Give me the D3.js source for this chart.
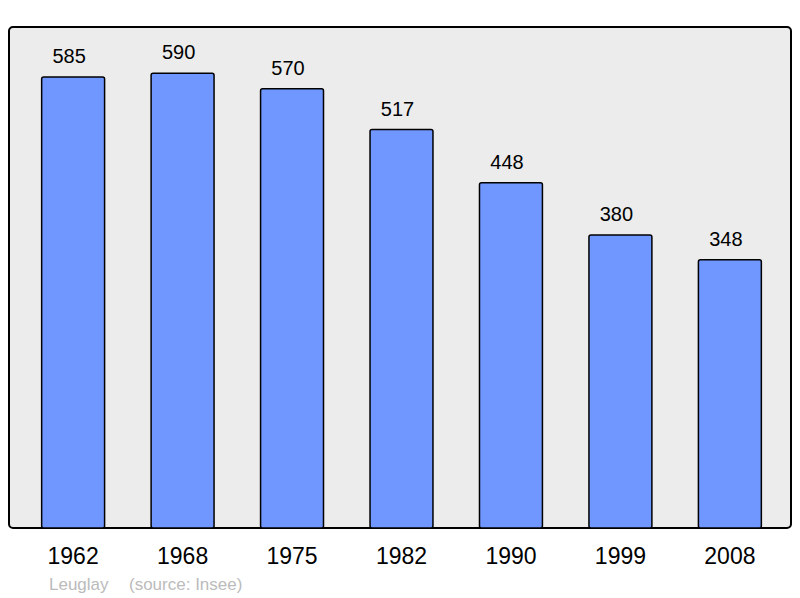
<!DOCTYPE html>
<html>
<head>
<meta charset="utf-8">
<script src="https://cdn.jsdelivr.net/npm/d3@7"></script>
<style>
  body { margin: 0; background: #fff; }
  text { font-family: "Liberation Sans", Arial, sans-serif; }
</style>
</head>
<body>
<div class="chart"></div>
<script>
var years = ["1962", "1968", "1975", "1982", "1990", "1999", "2008"];
var population = [585, 590, 570, 517, 448, 380, 348];
var place = "Leuglay";
var source = "(source: Insee)";

var width = 800,
    height = 598,
    frame = {left: 9, top: 27, right: 791, bottom: 528};

var svg = d3.select("div.chart").append("svg")
    .attr("width", width)
    .attr("height", height);

var x = d3.scaleBand()
    .domain(years)
    .range([11, 792])
    .paddingInner(0.425)
    .paddingOuter(0.28);

var y = d3.scaleLinear()
    .domain([0, 650])
    .range([frame.bottom, frame.top]);

// plot frame
svg.append("rect")
    .attr("x", frame.left)
    .attr("y", frame.top)
    .attr("width", frame.right - frame.left)
    .attr("height", frame.bottom - frame.top)
    .attr("rx", 4)
    .attr("fill", "#ececec")
    .attr("stroke", "#000")
    .attr("stroke-width", 2);

var data = years.map(function(d, i) { return {year: d, value: population[i]}; });

svg.selectAll(".bar")
    .data(data)
  .enter().append("rect")
    .attr("class", "bar")
    .attr("x", function(d) { return x(d.year); })
    .attr("y", function(d) { return y(d.value); })
    .attr("width", x.bandwidth())
    .attr("height", function(d) { return y(0) - y(d.value); })
    .attr("rx", 2)
    .attr("fill", "#7096ff")
    .attr("stroke", "#000")
    .attr("stroke-width", 1.5);

// value labels sit a little left of the bar centre, like the original
svg.selectAll(".value")
    .data(data)
  .enter().append("text")
    .attr("class", "value")
    .attr("x", function(d) { return x(d.year) + x.bandwidth() / 2 - 4; })
    .attr("y", function(d) { return y(d.value) - 14; })
    .attr("text-anchor", "middle")
    .attr("font-size", 20)
    .attr("fill", "#000")
    .text(function(d) { return d.value; });

// year labels, drawn with an axis
var axis = svg.append("g")
    .attr("transform", "translate(0," + frame.bottom + ")")
    .call(d3.axisBottom(x).tickSize(0).tickPadding(20));
axis.select(".domain").remove();
axis.selectAll("text")
    .attr("font-size", 23)
    .attr("font-family", "'Liberation Sans', Arial, sans-serif")
    .attr("fill", "#000");

svg.append("text")
    .attr("x", 49)
    .attr("y", 590)
    .attr("font-size", 17)
    .attr("fill", "#bbbbbb")
    .text(place);

svg.append("text")
    .attr("x", 129)
    .attr("y", 590)
    .attr("font-size", 17)
    .attr("fill", "#bbbbbb")
    .text(source);
</script>
</body>
</html>
